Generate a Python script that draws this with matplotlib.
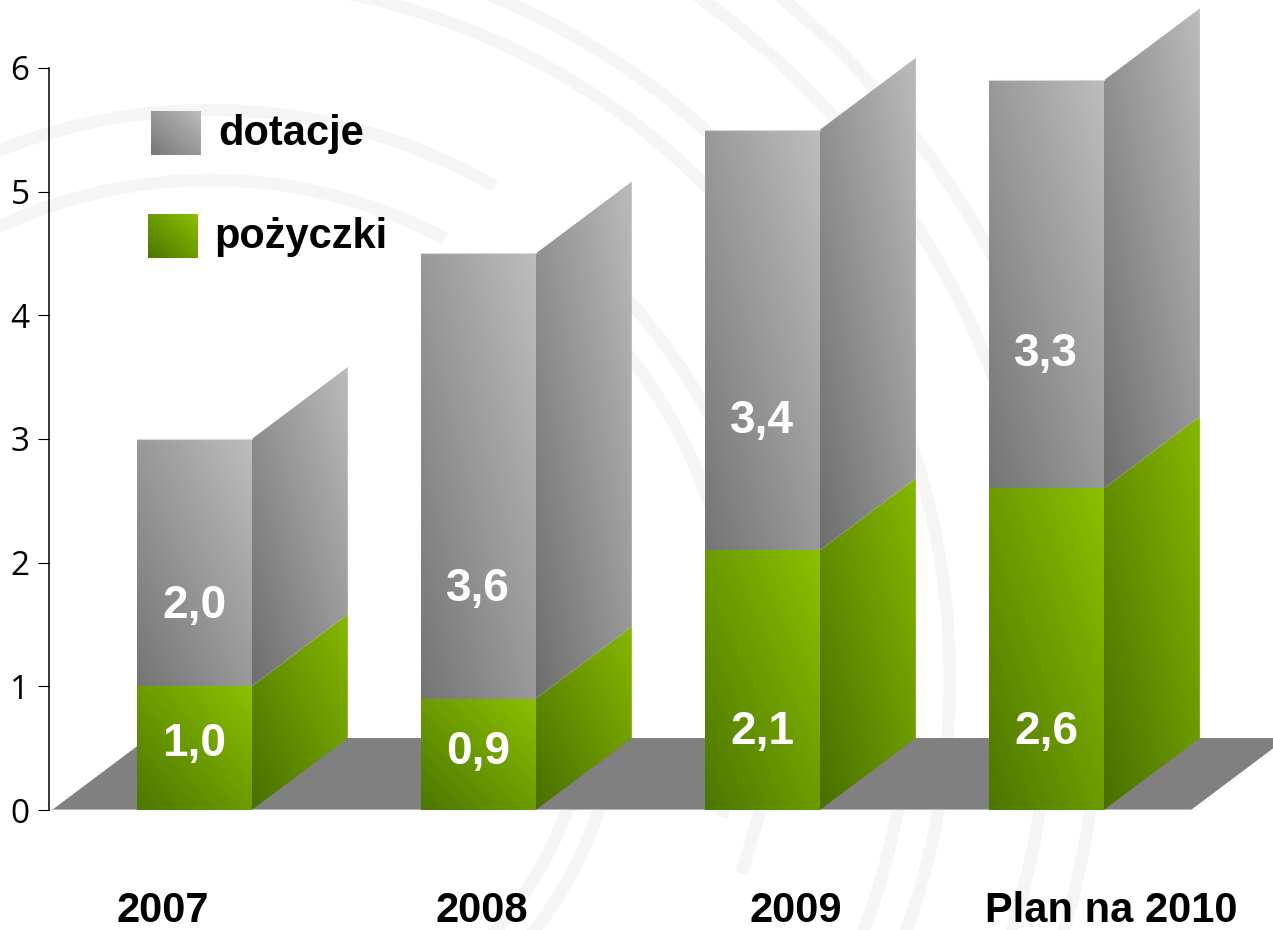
import numpy as np
import matplotlib
matplotlib.use('Agg')
import matplotlib.pyplot as plt
from matplotlib.patches import Polygon, Arc
from matplotlib.colors import LinearSegmentedColormap

# dane (mld zł)
kategorie = ['2007', '2008', '2009', 'Plan na 2010']
pozyczki = [1.0, 0.9, 2.1, 2.6]
dotacje = [2.0, 3.6, 3.4, 3.3]

# polozenie opisow (linia bazowa, w jednostkach osi y)
opis_pozyczki_y = [0.44, 0.37, 0.53, 0.53]
opis_dotacje_y = [1.55, 1.69, 3.05, 3.59]
opis_kat_x = [0.09, 1.215, 2.32, 3.43]

szer = 0.4045      # szerokosc slupka
gl_x = 0.338       # przesuniecie glebi
gl_y = 0.582

plt.rcParams['font.family'] = ['Open Sans', 'DejaVu Sans']
BOLD = 'Liberation Sans'

fig = plt.figure(figsize=(12.73, 9.30), dpi=100)
fig.patch.set_facecolor('white')

# tlo - delikatne luki
bg = fig.add_axes([0, 0, 1, 1], zorder=0)
bg.set_xlim(0, 1273)
bg.set_ylim(930, 0)
bg.axis('off')
luki = [(500, -140, -62), (570, -140, -60), (530, -50, 15), (565, -45, 20),
        (380, -5, 60), (410, -5, 60), (700, -100, 40), (740, -95, 40),
        (840, -72, 40), (890, -66, 40)]
for r, t1, t2 in luki:
    bg.add_patch(Arc((210, 680), 2 * r, 2 * r, theta1=t1, theta2=t2,
                     lw=9, color='#f5f5f5'))

ax = fig.add_axes([49 / 1273, 120 / 930, 1224 / 1273, 810 / 930], zorder=1)
ax.patch.set_alpha(0)


def gradient(ax, verts, c0, c1, z=2):
    poly = Polygon(verts, closed=True, facecolor='none', edgecolor='none', zorder=z)
    ax.add_patch(poly)
    xs = [p[0] for p in verts]
    ys = [p[1] for p in verts]
    u, v = np.meshgrid(np.linspace(0, 1, 200), np.linspace(0, 1, 200))
    cmap = LinearSegmentedColormap.from_list('g', [c0, c1])
    im = ax.imshow((u + v) / 2, cmap=cmap, vmin=0, vmax=1, origin='lower',
                   extent=(min(xs), max(xs), min(ys), max(ys)),
                   aspect='auto', interpolation='bilinear', zorder=z)
    im.set_clip_path(poly)


# podloga
x_l, x_r = -0.299, 3.711
ax.add_patch(Polygon([(x_l, 0), (x_r, 0), (x_r + gl_x, gl_y), (x_l + gl_x, gl_y)],
                     closed=True, facecolor='#808080', edgecolor='none', zorder=1))
ax.plot([x_l, x_r], [0, 0], color='#c4c4c4', lw=1.2, zorder=1.5)

for i in range(len(kategorie)):
    x0 = i
    x1 = i + szer
    g = pozyczki[i]
    s = pozyczki[i] + dotacje[i]
    # boki
    gradient(ax, [(x1, 0), (x1 + gl_x, gl_y), (x1 + gl_x, g + gl_y), (x1, g)],
             '#496f00', '#86b800')
    gradient(ax, [(x1, g), (x1 + gl_x, g + gl_y), (x1 + gl_x, s + gl_y), (x1, s)],
             '#6e6e6e', '#bbbbbb')
    # przody
    gradient(ax, [(x0, 0), (x1, 0), (x1, g), (x0, g)], '#4c7600', '#8cc000')
    gradient(ax, [(x0, g), (x1, g), (x1, s), (x0, s)], '#757575', '#bdbdbd')
    ax.plot([x0, x1], [s, s], color='#d8d8d8', lw=0.8, zorder=3)

    ax.text(x0 + szer / 2, opis_pozyczki_y[i], f'{pozyczki[i]:.1f}'.replace('.', ','),
            ha='center', va='baseline', color='white', fontsize=33,
            fontweight='bold', family=BOLD, zorder=5)
    ax.text(x0 + szer / 2, opis_dotacje_y[i], f'{dotacje[i]:.1f}'.replace('.', ','),
            ha='center', va='baseline', color='white', fontsize=33,
            fontweight='bold', family=BOLD, zorder=5)
    ax.text(opis_kat_x[i], -0.905, kategorie[i], ha='center', va='baseline',
            color='black', fontsize=30, fontweight='bold', family=BOLD)

# legenda
gradient(ax, [(0.049, 5.296), (0.225, 5.296), (0.225, 5.652), (0.049, 5.652)],
         '#777777', '#bcbcbc', z=4)
gradient(ax, [(0.039, 4.463), (0.215, 4.463), (0.215, 4.819), (0.039, 4.819)],
         '#4c7600', '#8cc000', z=4)
ax.text(0.285, 5.377, 'dotacje', ha='left', va='baseline', fontsize=30,
        fontweight='bold', family=BOLD, zorder=5)
ax.text(0.271, 4.544, 'pożyczki', ha='left', va='baseline', fontsize=30,
        fontweight='bold', family=BOLD, zorder=5)

ax.set_xlim(-0.3095, 4.0)
ax.set_ylim(0, 810 / 123.67)
ax.set_yticks(range(0, 7))
ax.set_xticks([])
for sp in ['top', 'right', 'bottom']:
    ax.spines[sp].set_visible(False)
ax.spines['left'].set_bounds(0, 6)
ax.spines['left'].set_linewidth(1.1)
ax.tick_params(axis='y', direction='out', length=8, width=0.8, pad=6, labelsize=24)

fig.savefig('out.png', dpi=100, facecolor='white')
